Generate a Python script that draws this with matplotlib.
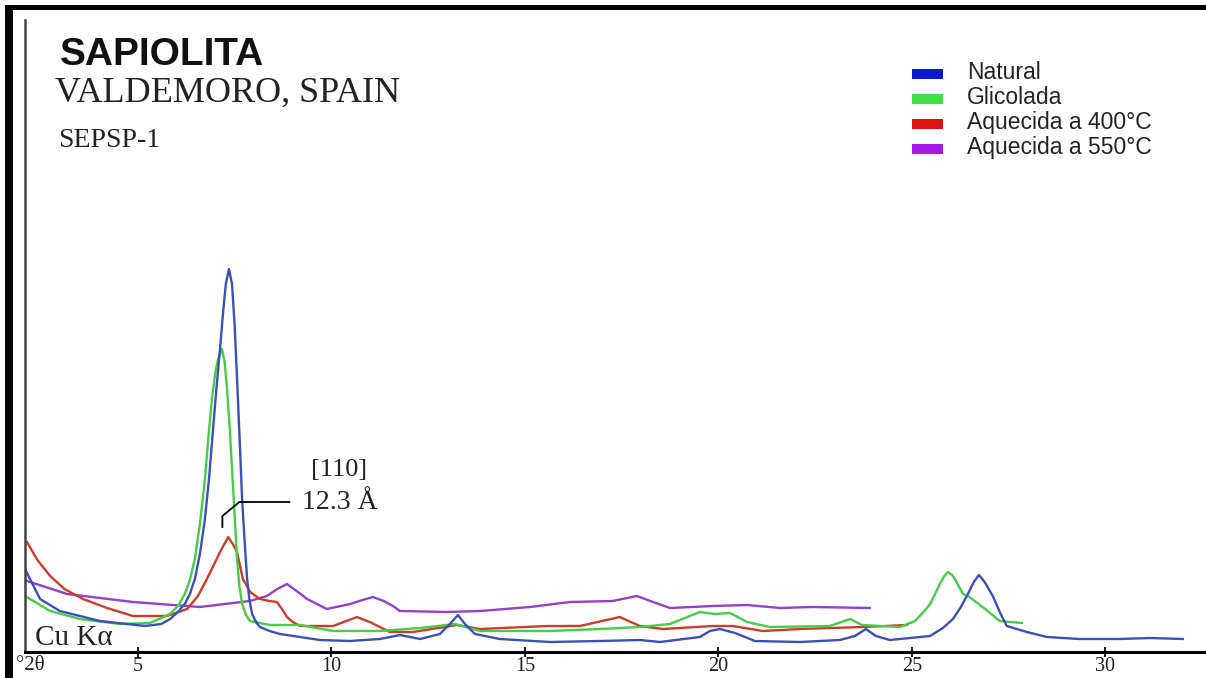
import numpy as np
import matplotlib
matplotlib.use("Agg")
import matplotlib.pyplot as plt
from matplotlib.patches import Rectangle

# Difratograma (Cu Ka) - sepiolita de Valdemoro, quatro tratamentos
two_theta_natural = [2.08, 2.47, 2.98, 4.02, 5.18, 5.60, 5.83, 6.03, 6.21, 6.34, 6.47, 6.60, 6.73,
                     6.84, 6.94, 7.03, 7.12, 7.20, 7.27, 7.35, 7.43, 7.50, 7.56, 7.63, 7.69,
                     7.76, 7.82, 7.88, 7.95, 8.05, 8.15, 8.40, 8.67, 9.70, 10.48, 11.25, 11.77,
                     12.29, 12.80, 13.06, 13.27, 13.45, 13.71, 14.35, 15.65, 16.94, 17.97, 18.49,
                     19.52, 19.78, 20.04, 20.43, 20.94, 22.11, 23.14, 23.53, 23.81, 24.07, 24.43,
                     25.47, 25.80, 26.06, 26.25, 26.42, 26.60, 26.73, 26.82, 26.91, 27.09, 27.27,
                     27.45, 27.97, 28.49, 29.34, 30.37, 31.15, 32.00]
int_natural = [83, 53, 41, 31, 26, 28, 33, 40, 48, 58, 73, 98, 133,
               175, 223, 265, 303, 340, 368, 383, 368, 325, 273, 210, 153,
               108, 73, 52, 38, 30, 25, 21, 18, 12, 11, 13, 17,
               13, 18, 28, 37, 28, 18, 13, 10, 11, 12, 10,
               15, 21, 23, 19, 11, 10, 12, 16, 23, 16, 12,
               16, 24, 33, 44, 56, 70, 77, 73, 68, 56, 40,
               26, 20, 15, 13, 13, 14, 13]

two_theta_glicolada = [2.08, 2.73, 3.50, 4.53, 5.31, 5.83, 6.03, 6.21, 6.34, 6.47, 6.60, 6.73,
                       6.82, 6.91, 7.00, 7.07, 7.17, 7.24, 7.30, 7.37, 7.43, 7.50, 7.56, 7.62,
                       7.69, 7.79, 7.89, 8.41, 9.19, 10.04, 11.25, 12.29, 13.19, 13.84, 15.65,
                       16.94, 17.97, 18.75, 19.26, 19.52, 19.91, 20.30, 20.74, 21.33, 22.88, 23.40,
                       23.71, 24.69, 25.08, 25.30, 25.47, 25.60, 25.72, 25.84, 25.93, 26.04, 26.14,
                       26.32, 26.49, 26.89, 27.27, 27.84]
int_glicolada = [56, 41, 33, 28, 29, 38, 46, 58, 72, 93, 128, 173,
                 215, 253, 280, 293, 303, 290, 263, 225, 183, 135, 93, 66,
                 48, 37, 31, 27, 27, 21, 21, 24, 28, 21, 21,
                 23, 25, 28, 36, 40, 38, 39, 30, 25, 26, 33,
                 27, 25, 31, 40, 48, 58, 68, 76, 80, 77, 71,
                 58, 55, 43, 31, 29]

two_theta_400 = [2.13, 2.40, 2.73, 3.10, 3.58, 4.20, 4.87, 5.75, 6.27, 6.55, 6.78, 6.97, 7.12,
                 7.33, 7.45, 7.56, 7.71, 7.90, 8.15, 8.40, 8.59, 8.72, 8.85, 9.00, 9.19,
                 10.04, 10.66, 10.99, 11.51, 12.11, 13.24, 13.84, 15.57, 16.42, 17.45,
                 17.97, 18.57, 19.86, 20.37, 21.15, 22.11, 23.73, 24.87]
int_400 = [110, 92, 76, 63, 53, 44, 36, 36, 43, 56, 73, 88, 100,
           115, 108, 100, 73, 60, 53, 51, 50, 43, 35, 30, 26,
           26, 35, 30, 20, 20, 27, 23, 26, 26, 35,
           26, 23, 26, 26, 21, 23, 25, 27]

two_theta_550 = [2.13, 3.17, 4.87, 6.60, 7.89, 8.33, 8.60, 8.85, 9.10, 9.37, 9.88, 10.48, 10.80,
                 11.07, 11.35, 11.59, 11.77, 12.98, 13.84, 15.13, 16.16, 17.27, 17.89, 18.31,
                 18.75, 19.86, 20.74, 21.59, 22.44, 23.91]
int_550 = [71, 58, 50, 45, 51, 56, 63, 68, 61, 53, 43, 48, 52,
           55, 51, 46, 41, 40, 41, 45, 50, 51, 56, 50,
           44, 46, 47, 44, 45, 44]

labels = ["Natural", "Glicolada", "Aquecida a 400°C", "Aquecida a 550°C"]
line_colors = ["#3a50b8", "#46cc46", "#cc3c2c", "#9440cc"]
legend_colors = ["#0c16d8", "#40e040", "#e01212", "#a418e8"]

series = [(two_theta_natural, int_natural), (two_theta_glicolada, int_glicolada),
          (two_theta_400, int_400), (two_theta_550, int_550)]

# pico [110] a partir de d = 12.3 A com Cu Ka
d_110 = 12.3
wavelength = 1.5406
peak_110 = 2 * np.degrees(np.arcsin(wavelength / (2 * d_110)))

W, H = 1206, 678
fig = plt.figure(figsize=(W / 100, H / 100), dpi=100)
fig.patch.set_facecolor("white")


def fx(px):
    return px / W


def fy(py):
    return 1 - py / H


ax = fig.add_axes([fx(25), fy(652), 1 - fx(25), fy(20) - fy(652)])
ax.set_facecolor("white")

# ordem de desenho: lilás atrás, azul por cima
for i in [3, 2, 1, 0]:
    x, y = series[i]
    ax.plot(x, y, color=line_colors[i], lw=1.7, solid_joinstyle="round")

ax.set_xlim(2.08, 32.6)
ax.set_ylim(0, 632)
ax.spines["top"].set_visible(False)
ax.spines["right"].set_visible(False)
ax.spines["left"].set_color("#444444")
ax.spines["left"].set_linewidth(1.8)
ax.spines["bottom"].set_color("black")
ax.spines["bottom"].set_linewidth(2.2)
ax.set_yticks([])
ax.set_xticks([5, 10, 15, 20, 25, 30])
ax.tick_params(axis="x", direction="inout", length=7, width=1.5, pad=0,
               labelsize=14.5, colors="#222222")
for lab in ax.get_xticklabels():
    lab.set_fontfamily("Liberation Serif")

# indicação do pico [110]
ax.plot([peak_110, peak_110, peak_110 + 0.44, peak_110 + 1.73], [125, 136, 150, 150],
        color="black", lw=1.3)
ax.text(10.19, 176, "[110]", ha="center", va="baseline", fontsize=19,
        family="Liberation Serif", color="#222222")
ax.text(9.24, 143, "12.3 Å", ha="left", va="baseline", fontsize=20,
        family="Liberation Serif", color="#222222")

# títulos
fig.text(fx(60), fy(65), "SAPIOLITA", fontsize=28, fontweight="bold",
         family="Liberation Sans", color="#111111", va="baseline")
fig.text(fx(55), fy(102), "VALDEMORO, SPAIN", fontsize=26,
         family="Liberation Serif", color="#222222", va="baseline")
fig.text(fx(58), fy(147), "SEPSP-1", fontsize=20,
         family="Liberation Serif", color="#222222", va="baseline")

fig.text(fx(35), fy(645), "Cu Kα", fontsize=21, family="Liberation Serif",
         color="#222222", va="baseline")
fig.text(fx(16), fy(656), "°2θ", fontsize=15, family="Liberation Serif",
         color="#222222", va="top")

# legenda
for i, (lab, col) in enumerate(zip(labels, legend_colors)):
    base = 79 + 25 * i
    fig.add_artist(Rectangle((fx(912), fy(base)), fx(31), fy(0) - fy(10),
                             transform=fig.transFigure, color=col, lw=0))
    fig.text(fx(967), fy(base), lab, fontsize=16.5, family="Liberation Sans",
             color="#222222", va="baseline")

# moldura preta
fig.add_artist(Rectangle((fx(5), 0), fx(8), fy(5), transform=fig.transFigure,
                         color="black", lw=0))
fig.add_artist(Rectangle((fx(5), fy(10)), 1, fy(5) - fy(10), transform=fig.transFigure,
                         color="black", lw=0))

fig.savefig("out.png", dpi=100)
